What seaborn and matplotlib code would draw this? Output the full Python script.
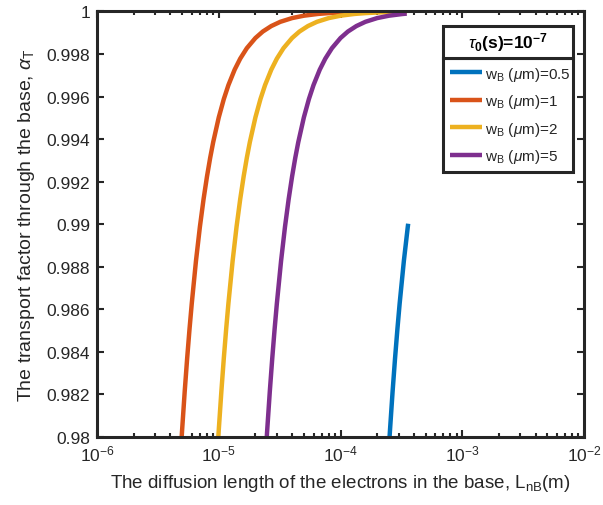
import numpy as np
import pandas as pd
import seaborn as sns
import matplotlib
matplotlib.use("Agg")
import matplotlib.pyplot as plt
from matplotlib.ticker import FuncFormatter, LogLocator
from matplotlib.lines import Line2D
from matplotlib.patches import Rectangle

# ---- data: diffusion length L (micrometres) and alpha_T ----
L_w05_um = [249.9, 255.0, 267.75, 280.5, 293.25, 306.0, 331.5, 357.0, 359.55]
a_w05 = [0.979536, 0.980333, 0.982133, 0.983699, 0.985068, 0.986272, 0.988283,
         0.989883, 0.990024]

L_w1_um = [4.9, 5.0, 5.25, 5.5, 5.75, 6.0, 6.5, 7.0, 7.5, 8.0, 8.5, 9.0, 10.0, 11.0,
           12.0, 13.5, 15.0, 17.0, 20.0, 23.0, 27.0, 32.0, 40.0, 50.0, 65.0, 80.0,
           100.0, 130.0, 175.0, 250.0, 350.0]
a_w1 = [0.979536, 0.980333, 0.982133, 0.983699, 0.985068, 0.986272, 0.988283,
        0.989883, 0.991177, 0.992238, 0.993120, 0.993859, 0.995021, 0.995882,
        0.996538, 0.997263, 0.997782, 0.998273, 0.998751, 0.999056, 0.999314,
        0.999512, 0.999688, 0.999800, 0.999882, 0.999922, 0.999950, 0.999970,
        0.999984, 0.999992, 0.999996]

L_w2_um = [9.8, 10.0, 10.5, 11.0, 11.5, 12.0, 13.0, 14.0, 15.0, 16.0, 17.0, 18.0,
           20.0, 22.0, 24.0, 27.0, 30.0, 34.0, 40.0, 46.0, 54.0, 64.0, 80.0, 100.0,
           130.0, 160.0, 200.0, 260.0, 350.0]
a_w2 = [0.979536, 0.980333, 0.982133, 0.983699, 0.985068, 0.986272, 0.988283,
        0.989883, 0.991177, 0.992238, 0.993120, 0.993859, 0.995021, 0.995882,
        0.996538, 0.997263, 0.997782, 0.998273, 0.998751, 0.999056, 0.999314,
        0.999512, 0.999688, 0.999800, 0.999882, 0.999922, 0.999950, 0.999970,
        0.999984]

L_w5_um = [24.5, 25.0, 26.25, 27.5, 28.75, 30.0, 32.5, 35.0, 37.5, 40.0, 42.5, 45.0,
           50.0, 55.0, 60.0, 67.5, 75.0, 85.0, 100.0, 115.0, 135.0, 160.0, 200.0,
           250.0, 325.0, 350.0]
a_w5 = [0.979536, 0.980333, 0.982133, 0.983699, 0.985068, 0.986272, 0.988283,
        0.989883, 0.991177, 0.992238, 0.993120, 0.993859, 0.995021, 0.995882,
        0.996538, 0.997263, 0.997782, 0.998273, 0.998751, 0.999056, 0.999314,
        0.999512, 0.999688, 0.999800, 0.999882, 0.999898]

labels = [r'w$_\mathrm{B}$ ($\mu$m)=0.5', r'w$_\mathrm{B}$ ($\mu$m)=1',
          r'w$_\mathrm{B}$ ($\mu$m)=2', r'w$_\mathrm{B}$ ($\mu$m)=5']
colors = ['#0072BD', '#D95319', '#EDB120', '#7E2F8E']
legend_title = r'$\tau_\mathbf{0}$(s)=10$^\mathbf{-7}$'
yticks = [0.98, 0.982, 0.984, 0.986, 0.988, 0.99, 0.992, 0.994, 0.996, 0.998, 1.0]

series = [(L_w05_um, a_w05), (L_w1_um, a_w1), (L_w2_um, a_w2), (L_w5_um, a_w5)]
frames = []
for lab, (L, a) in zip(labels, series):
    frames.append(pd.DataFrame({'L': np.asarray(L) * 1e-6, 'alpha': a,
                                'series': lab}))
df = pd.concat(frames, ignore_index=True)

sns.set_style('white')
plt.rcParams['font.family'] = ['Liberation Sans', 'DejaVu Sans']
plt.rcParams['mathtext.fontset'] = 'custom'
plt.rcParams['mathtext.rm'] = 'Liberation Sans'
plt.rcParams['mathtext.it'] = 'Liberation Sans:italic'
plt.rcParams['mathtext.bf'] = 'Liberation Sans:bold'

fig = plt.figure(figsize=(6.03, 5.06), dpi=100)
ax = fig.add_axes([0.1609, 0.1344, 0.8076, 0.841])

sns.lineplot(data=df, x='L', y='alpha', hue='series', hue_order=labels,
             palette=colors, units='series', estimator=None, sort=False,
             linewidth=3.2, legend=False, ax=ax)
for ln in ax.lines:
    ln.set_solid_capstyle('butt')
    ln.set_solid_joinstyle('round')

ax.set_xscale('log')
ax.set_xlim(1e-6, 1e-2)
ax.set_ylim(0.98, 1.0)
ax.set_yticks(yticks)
ax.yaxis.set_major_formatter(FuncFormatter(lambda v, p: '%g' % round(v, 4)))
ax.xaxis.set_major_locator(LogLocator(base=10, numticks=10))
ax.xaxis.set_minor_locator(LogLocator(base=10, subs=np.arange(2, 10), numticks=20))

dark = '#262626'
for s in ax.spines.values():
    s.set_visible(True)
    s.set_linewidth(2.2)
    s.set_color(dark)
ax.tick_params(which='both', direction='in', top=True, right=True,
               bottom=True, left=True, color=dark, labelcolor=dark,
               labelsize=12.5, width=1.5)
ax.tick_params(which='major', length=5, pad=5)
ax.tick_params(which='minor', length=3)

ax.set_xlabel(r'The diffusion length of the electrons in the base, L$_\mathrm{nB}$(m)',
              fontsize=13.5, color=dark, labelpad=6)
ax.set_ylabel(r'The transport factor through the base, $\alpha_\mathrm{T}$',
              fontsize=14, color=dark, labelpad=7)

# legend box (entries) and title box stacked on top of it
lx0, lx1 = 0.7105, 0.9774
ly_sep, ly_top = 0.891, 0.966
handles = [Line2D([], [], color=c, lw=3.2, solid_capstyle='butt') for c in colors]
leg = ax.legend(handles, labels, loc='upper left',
                bbox_to_anchor=(lx0, ly_sep - 0.4, lx1 - lx0, 0.4), mode='expand',
                fontsize=11, frameon=True, fancybox=False, framealpha=1,
                handlelength=2.1, handletextpad=0.2, borderpad=0.45,
                labelspacing=0.62, borderaxespad=0)
leg.get_frame().set_edgecolor(dark)
leg.get_frame().set_linewidth(2.2)

ax.add_patch(Rectangle((lx0, ly_sep), lx1 - lx0, ly_top - ly_sep,
                       transform=ax.transAxes, facecolor='white', edgecolor=dark,
                       linewidth=2.2, zorder=6, clip_on=False))
ax.text((lx0 + lx1) / 2, (ly_sep + ly_top) / 2, legend_title, transform=ax.transAxes,
        ha='center', va='center', fontsize=12.5, fontweight='bold', color='black',
        zorder=7)

fig.savefig('out.png', dpi=100)
